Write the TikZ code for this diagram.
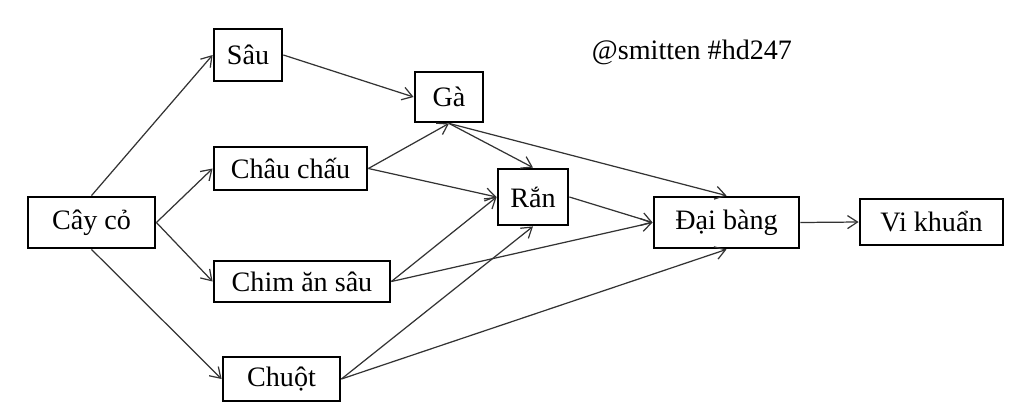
\documentclass[tikz,border=0pt]{standalone}
\usepackage{fontspec}
\setmainfont{Liberation Serif}
\usetikzlibrary{arrows.meta,positioning}
\tikzset{
  especie/.style={
    draw=black,
    line width=1.6pt,
    fill=white,
    align=center,
    inner sep=0pt,
    font=\fontsize{16}{19}\selectfont
  },
  arrow/.style={
    -{Straight Barb[length=2mm,width=2.6mm]},
    line width=0.7pt,
    black!80
  }
}
\begin{document}
\begin{tikzpicture}[x=0.02cm,y=-0.02cm]
\useasboundingbox (0,0) rectangle (1024,413);
\node[especie, minimum width=2.54cm, minimum height=1.02cm] (cay) at (91.5,222.5) {Cây cỏ};
\node[especie, minimum width=1.36cm, minimum height=1.04cm] (sau) at (248,55) {Sâu};
\node[especie, minimum width=3.06cm, minimum height=0.86cm] (chau) at (290.5,168.5) {Châu chấu};
\node[especie, minimum width=3.52cm, minimum height=0.82cm] (chim) at (302,281.5) {Chim ăn sâu};
\node[especie, minimum width=2.34cm, minimum height=0.88cm] (chuot) at (281.5,379) {Chuột};
\node[especie, minimum width=1.36cm, minimum height=1.00cm] (ga) at (449,97) {Gà};
\node[especie, minimum width=1.40cm, minimum height=1.12cm] (ran) at (533,197) {Rắn};
\node[especie, minimum width=2.90cm, minimum height=1.02cm] (dai) at (726.5,222.5) {Đại bàng};
\node[especie, minimum width=2.86cm, minimum height=0.92cm] (vi) at (931.5,222) {Vi khuẩn};
\node[font=\fontsize{16}{19}\selectfont] (wm) at (692,52) {@smitten \#hd247};
% cay co
\draw[arrow] (cay.north) -- (sau.west);
\draw[arrow] (cay.east) -- (chau.west);
\draw[arrow] (cay.east) -- (chim.west);
\draw[arrow] (cay.south) -- (chuot.west);
% sinh vat tieu thu
\draw[arrow] (sau.east) -- (ga.west);
\draw[arrow] (chau.east) -- (ga.south);
\draw[arrow] (chau.east) -- (ran.west);
\draw[arrow] (chim.east) -- (ran.west);
\draw[arrow] (chim.east) -- (dai.west);
\draw[arrow] (chuot.east) -- (ran.south);
\draw[arrow] (chuot.east) -- (dai.south);
\draw[arrow] (ga.south) -- (ran.north);
\draw[arrow] (ga.south) -- (dai.north);
\draw[arrow] (ran.east) -- (dai.west);
\draw[arrow] (dai.east) -- (vi.west);
\end{tikzpicture}
\end{document}
